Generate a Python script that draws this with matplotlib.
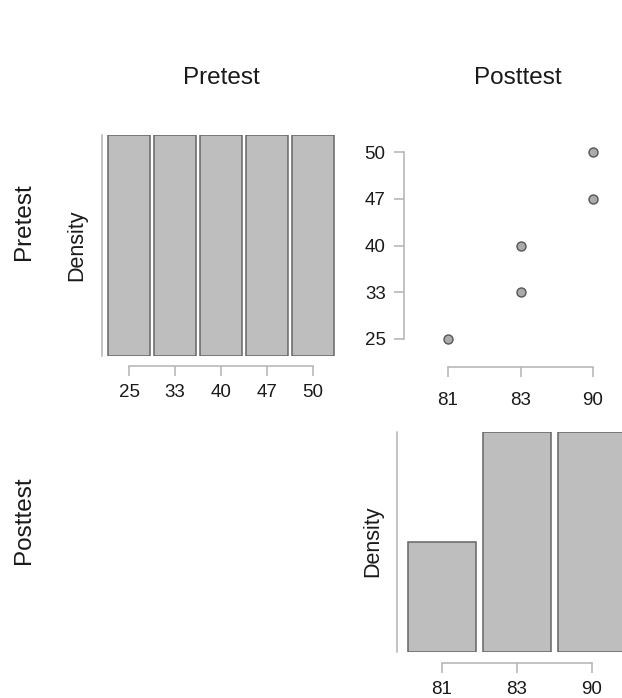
import matplotlib
matplotlib.use("Agg")
import matplotlib.pyplot as plt
import numpy as np

plt.rcParams['font.family'] = ['Liberation Sans', 'DejaVu Sans']

# data
variables = ["Pretest", "Posttest"]
pretest = [25, 33, 40, 47, 50]
posttest = [81, 83, 83, 90, 90]

pre_levels = sorted(set(pretest))
post_levels = sorted(set(posttest))
pre_counts = np.array([pretest.count(v) for v in pre_levels], dtype=float)
post_counts = np.array([posttest.count(v) for v in post_levels], dtype=float)

W, H = 622, 698
fig = plt.figure(figsize=(W / 100, H / 100), dpi=100)

line_col = '#b3b3b3'
bar_fill = '#bebebe'
bar_edge = '#666666'
txt_col = '#1a1a1a'


def px_axes(left, top, right, bottom):
    return fig.add_axes([left / W, 1 - bottom / H, (right - left) / W, (bottom - top) / H])


def style(ax):
    for s in ['top', 'right']:
        ax.spines[s].set_visible(False)
    for s in ['left', 'bottom']:
        ax.spines[s].set_color(line_col)
        ax.spines[s].set_linewidth(1.1)
    ax.tick_params(colors=line_col, labelcolor=txt_col, length=7.2, width=1.1,
                   labelsize=13.5, pad=6)
    ax.patch.set_alpha(0)


def hist_panel(ax, levels, counts, xlim, offset):
    dens = counts / counts.sum()
    pos = np.arange(len(levels))
    ax.bar(pos, dens, width=0.9, color=bar_fill, edgecolor=bar_edge, linewidth=1.1)
    ax.set_xlim(*xlim)
    ax.set_ylim(0, dens.max())
    style(ax)
    ax.spines['bottom'].set_position(('outward', offset))
    ax.spines['bottom'].set_bounds(0, len(levels) - 1)
    ax.spines['left'].set_bounds(0, dens.max())
    ax.set_xticks(pos)
    ax.set_xticklabels([str(v) for v in levels])
    ax.set_yticks([])


# top-left: Pretest distribution
ax1 = px_axes(102, 135, 336, 356)
hist_panel(ax1, pre_levels, pre_counts, (-0.587, 4.5), 7.2)

# top-right: scatter Pretest vs Posttest
ax2 = px_axes(404, 140, 610, 367)
xi = [post_levels.index(v) for v in posttest]
yi = [pre_levels.index(v) for v in pretest]
ax2.scatter(xi, yi, s=42, color='#ababab', edgecolor='#555555', linewidth=1.0, zorder=3)
ax2.set_xlim(-0.607, 2.234)
ax2.set_ylim(-0.599, 4.257)
style(ax2)
ax2.spines['left'].set_bounds(0, len(pre_levels) - 1)
ax2.spines['bottom'].set_bounds(0, len(post_levels) - 1)
ax2.set_xticks(range(len(post_levels)))
ax2.set_xticklabels([str(v) for v in post_levels])
ax2.set_yticks(range(len(pre_levels)))
ax2.set_yticklabels([str(v) for v in pre_levels])
ax2.tick_params(axis='x', pad=11)
ax2.tick_params(axis='y', pad=6)

# bottom-right: Posttest distribution
ax3 = px_axes(397, 432, 622, 652)
hist_panel(ax3, post_levels, post_counts, (-0.6, 2.4), 8)
ax3.tick_params(axis='x', pad=5.5)

# labels
for x, y in [(77, 245), (373, 541)]:
    fig.text(x / W, 1 - y / H, "Density", rotation=90, ha='center', va='center',
             fontsize=15.5, color=txt_col)

fig.text(221 / W, 1 - 78 / H, variables[0], ha='center', va='center', fontsize=17.5, color=txt_col)
fig.text(518 / W, 1 - 78 / H, variables[1], ha='center', va='center', fontsize=17.5, color=txt_col)
fig.text(24 / W, 1 - 222 / H, variables[0], rotation=90, ha='center', va='center', fontsize=17.5, color=txt_col)
fig.text(24 / W, 1 - 520 / H, variables[1], rotation=90, ha='center', va='center', fontsize=17.5, color=txt_col)

fig.savefig("out.png", dpi=100)
